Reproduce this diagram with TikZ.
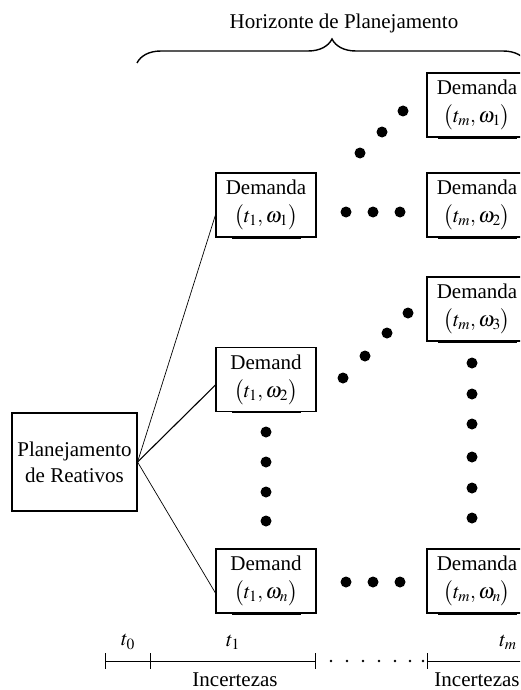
\documentclass[tikz,border=0pt]{standalone}
\usepackage{mathptmx}
\usepackage{fontspec}
\setmainfont{Liberation Serif}
\usetikzlibrary{decorations.pathreplacing}
\begin{document}
\begin{tikzpicture}[x=1pt,y=-1pt,
  txt/.style={font=\fontsize{21}{26}\selectfont},
  box/.style={font=\fontsize{21}{28}\selectfont, draw, line width=1.1pt,
    minimum width=100pt, minimum height=64pt, inner sep=0pt, align=center},
  plan/.style={txt, draw, line width=1.1pt, minimum width=125pt, minimum height=98pt,
    inner sep=0pt, align=center},
  link/.style={line width=0.7pt},
  uline/.style={line width=2.4pt},
  tick/.style={line width=1pt},
  dot/.style={fill=black}]
\useasboundingbox (0,0) rectangle (520,690);
\clip (0,0) rectangle (520,690);

% title and brace over the planning horizon
\node[txt] (title) at (344,23) {Horizonte de Planejamento};
\coordinate (bl) at (137,63);
\coordinate (br) at (527,63);
\draw[decorate, decoration={brace, amplitude=24pt}, line width=1.4pt] (bl) -- (br);

% root
\node[plan] (root) at (74.5,462) {Planejamento\\de Reativos};

% first stage
\node[box] (a1) at (266,205) {Demanda\\$\bigl(t_1,\omega_1\bigr)$};
\node[box] (a2) at (266,379.5) {Demand\\$\bigl(t_1,\omega_2\bigr)$};
\node[box] (an) at (266,581) {Demand\\$\bigl(t_1,\omega_n\bigr)$};

% last stage
\node[box] (b1) at (477,105) {Demanda\\$\bigl(t_m,\omega_1\bigr)$};
\node[box] (b2) at (477,205) {Demanda\\$\bigl(t_m,\omega_2\bigr)$};
\node[box] (b3) at (477,309) {Demanda\\$\bigl(t_m,\omega_3\bigr)$};
\node[box] (bn) at (477,581) {Demanda\\$\bigl(t_m,\omega_n\bigr)$};

% heavy rules along the box bottoms
\foreach \n in {a1,a2,an}
  \draw[uline] ([xshift=-34pt]\n.south) -- ([xshift=35pt]\n.south);
\foreach \n in {b1,b2,b3,bn}
  \draw[uline] ([xshift=-39pt]\n.south) -- ([xshift=40pt]\n.south);

% branches
\draw[link] (root.east) -- ([yshift=-10pt]a1.west);
\draw[link, line width=1.1pt] (root.east) -- ([yshift=-5.5pt]a2.west);
\draw[link] (root.east) -- ([yshift=-12pt]an.west);

% ellipsis dots
\foreach \p in {(346,212),(373,212),(400,212),
                (346,582),(373,582),(400,582),
                (360,153),(382,132),(403,111),
                (343,378),(365,356),(387,333),(408,313),
                (266,432),(266,462),(266,492),(266,521),
                (472,363),(472,394),(472,424),(472,457),(472,488),(472,518)}
  \fill[dot] \p circle[radius=5.5pt];

% time axis
\coordinate (t0) at (105,661);
\coordinate (t1) at (150,661);
\coordinate (t2) at (315,661);
\coordinate (t3) at (427,661);
\coordinate (tE) at (522,661);
\draw[tick] (t0) -- (t2);
\draw[tick] (t3) -- (tE);
\foreach \c in {t0,t1,t2,t3}
  \draw[tick] ([yshift=8pt]\c) -- ([yshift=-8pt]\c);
\foreach \x in {331,347,363,379,395,410,423}
  \fill (\x,661) circle[radius=1.3pt];

\node[txt] (l0) at (128,642) {$t_0$};
\node[txt] (l1) at (233,642) {$t_1$};
\node[txt] (lm) at (508,642) {$t_m$};
\node[txt] (u1) at (235,680) {Incertezas};
\node[txt] (u2) at (477,680) {Incertezas};
\end{tikzpicture}
\end{document}
